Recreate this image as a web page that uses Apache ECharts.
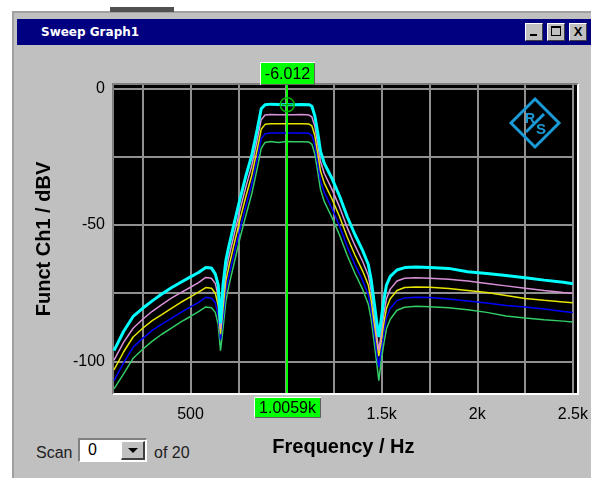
<!DOCTYPE html>
<html>
<head>
<meta charset="utf-8">
<script src="https://cdn.jsdelivr.net/npm/echarts@6/dist/echarts.min.js"></script>
<style>
  html, body { margin: 0; padding: 0; width: 591px; height: 478px; overflow: hidden; background: #fff; }
  body { font-family: "Liberation Sans", Arial, sans-serif; }
  #win { position: absolute; left: 12px; top: 11px; width: 579px; height: 467px; background: #c0c0c0;
         border-left: 2px solid #a0a0a0; border-top: 2px solid #a0a0a0; box-sizing: border-box; }
  #tool { position: absolute; left: 110px; top: 7px; width: 64px; height: 5px; background: #505050; }
  #title { position: absolute; left: 17px; top: 19px; width: 574px; height: 26px; background: #000080; color: #fff;
           font: bold 12px "DejaVu Sans", sans-serif; line-height: 26px; padding-left: 24px; box-sizing: border-box; }
  .btn { position: absolute; top: 23px; width: 18px; height: 18px; background: #c0c0c0; box-sizing: border-box;
         border-top: 1px solid #fff; border-left: 1px solid #fff; border-right: 1px solid #404040; border-bottom: 1px solid #404040; }
  #frame { position: absolute; left: 112px; top: 83px; width: 467px; height: 312px; box-sizing: border-box; background: #000;
           border-top: 2px solid #808080; border-left: 2px solid #808080; border-right: 2px solid #fff; border-bottom: 2px solid #fff; }
  .txt { position: absolute; font-size: 16px; color: #202020; line-height: 18px; }
  #drop { position: absolute; left: 78px; top: 438px; width: 69px; height: 24px; background: #fff; box-sizing: border-box;
          border-top: 2px solid #808080; border-left: 2px solid #808080; border-right: 1px solid #fff; border-bottom: 1px solid #fff; }
  #arrow { position: absolute; left: 41px; top: 1px; width: 24px; height: 19px; background: #c0c0c0; box-sizing: border-box;
           border-top: 1px solid #fff; border-left: 1px solid #fff; border-right: 2px solid #404040; border-bottom: 2px solid #404040; }
  #chart { position: absolute; left: 0; top: 0; width: 591px; height: 478px; }
</style>
</head>
<body>
<div id="win"></div>
<div id="tool"></div>
<div id="title">Sweep Graph1</div>
<div class="btn" style="left:525px"><div style="position:absolute;left:4px;top:10px;width:7px;height:2px;background:#000"></div></div>
<div class="btn" style="left:547px"><div style="position:absolute;left:3px;top:2px;width:10px;height:10px;box-sizing:border-box;border:1px solid #000;border-top:2px solid #000"></div></div>
<div class="btn" style="left:569px;font:bold 13px 'Liberation Sans',Arial,sans-serif;text-align:center;line-height:16px;color:#000">X</div>
<div id="frame"></div>
<div class="txt" style="left:36px;top:444px">Scan</div>
<div id="drop">
  <div class="txt" style="left:8px;top:1px;color:#000">0</div>
  <div id="arrow"><div style="position:absolute;left:6px;top:6px;width:0;height:0;border-left:5px solid transparent;border-right:5px solid transparent;border-top:5px solid #000"></div></div>
</div>
<div class="txt" style="left:154px;top:444px">of 20</div>
<div id="chart"></div>
<script>
// sweep frequencies in Hz
const FREQ = [100, 150, 200, 250, 300, 350, 400, 450, 500,
  540, 580, 610, 630, 645, 657, 670, 685, 700,
  730, 760, 790, 820, 850, 870, 890, 920, 960,
  1000, 1040, 1080, 1120, 1135, 1150, 1165, 1180, 1200,
  1240, 1280, 1320, 1360, 1400, 1430, 1445, 1460, 1475,
  1485, 1495, 1510, 1525, 1545, 1580, 1620, 1680, 1750,
  1850, 1950, 2050, 2150, 2250, 2350, 2450, 2500]

// levels in dBV, one array per scan
const SCAN_CYAN = [-96, -89, -83.5, -80.5, -77.8, -75.3, -73, -71, -69,
  -67.5, -65.6, -65.8, -68, -72, -86, -72, -63, -58,
  -49, -40.3, -32, -24.7, -14.7, -7.5, -6, -5.8, -5.9,
  -6.0, -6.0, -5.9, -6.0, -6.6, -10, -16, -23, -27.5,
  -33, -39.5, -47, -53.5, -59.3, -64.5, -70, -78, -86,
  -91, -86, -78, -72, -68.8, -66.5, -65.6, -65.4, -65.6,
  -65.9, -67.1, -67.8, -68.5, -69.3, -70.2, -71, -71.5]
const SCAN_PINK = [-99.5, -93, -87.8, -84.5, -81.6, -79.2, -76.8, -74.8, -72.8,
  -71.2, -69.2, -69.5, -71.5, -76, -88, -77, -67, -62,
  -53, -44.2, -36, -28.5, -18.5, -11.5, -9.8, -9.6, -9.7,
  -9.7, -9.7, -9.6, -9.8, -10.5, -13.8, -20, -26.8, -31.2,
  -37, -43.5, -51, -57.5, -63.3, -68.5, -74, -82, -91,
  -96, -91, -83, -77, -73.5, -70.5, -69.5, -69.3, -69.5,
  -69.9, -70.5, -71.4, -72.3, -73.2, -74, -74.7, -75]
const SCAN_YELLOW = [-103, -96.5, -91, -87.8, -85, -82.8, -80.5, -78.3, -76.3,
  -74.7, -72.9, -73.2, -75, -79.5, -90, -80.5, -70.5, -65.5,
  -56.5, -47.7, -39.5, -32, -22, -15, -13.2, -13, -13,
  -13, -13, -13, -13.1, -13.8, -17.2, -23.5, -30.3, -34.7,
  -40.5, -47, -54.5, -61, -66.8, -72, -77.5, -85.5, -93,
  -98, -93.5, -86.5, -80.5, -77, -74, -72.9, -72.7, -72.8,
  -73.3, -74, -74.7, -75.8, -76.9, -77.6, -78.2, -78.5]
const SCAN_BLUE = [-107, -100.5, -94.7, -91.5, -88.6, -86.3, -84.2, -82, -80,
  -78.4, -76.5, -76.8, -78.5, -83, -92, -84, -74, -69,
  -60, -51.2, -43, -35.4, -25.5, -18.5, -16.6, -16.4, -16.4,
  -16.4, -16.4, -16.4, -16.5, -17.3, -20.6, -27, -33.8, -38.2,
  -44, -50.5, -58, -64.5, -70.3, -75.5, -81, -89, -97,
  -102, -97, -90, -84, -80.5, -77.7, -76.7, -76.5, -76.6,
  -77.1, -77.8, -78.6, -79.5, -80, -80.8, -81.7, -82]
const SCAN_GREEN = [-110, -104.5, -98.8, -95.5, -92.5, -90, -87.8, -85.5, -83.5,
  -81.8, -80, -80.3, -82, -86.5, -96, -88, -78, -72.5,
  -63.5, -54.5, -46.5, -38.8, -29, -22, -19.8, -19.5, -19.8,
  -19.5, -19.6, -19.6, -19.7, -20.5, -24, -30.2, -37, -41.5,
  -47.3, -53.8, -61.2, -67.7, -73.5, -79, -84.5, -92.5, -101,
  -107, -101, -94, -88, -84.5, -81.2, -80.1, -79.8, -79.9,
  -80.3, -81, -82, -83.3, -84.1, -84.7, -85.2, -85.5]

const X_GRID = [250, 500, 750, 1000, 1250, 1500, 1750, 2000, 2250, 2500]
// the 1k label is hidden under the cursor readout
const X_LABELS = [500, 1500, 2000, 2500]
const Y_GRID = [0, -25, -50, -75, -100]
const Y_LABELS = [0, -50, -100]

const CURSOR_FREQ = 1005.9
const CURSOR_LEVEL = -6.012
const CURSOR_FREQ_TEXT = '1.0059k'
const CURSOR_LEVEL_TEXT = '-6.012'

const FONT = '"Liberation Sans", Arial, sans-serif'
const LOGO = '#1a9ad6'

const chart = echarts.init(document.getElementById('chart'))

const trace = (name, values, color, width) => ({
  name,
  type: 'line',
  data: FREQ.map((f, i) => [f, values[i]]),
  symbol: 'none',
  lineStyle: { color, width },
  itemStyle: { color },
  silent: true,
})

const cyan = trace('Scan 0', SCAN_CYAN, '#00ffff', 3)
cyan.markLine = {
  silent: true,
  symbol: 'none',
  label: { show: false },
  lineStyle: { color: '#00ff00', width: 2, type: 'solid' },
  data: [{ xAxis: CURSOR_FREQ }],
}
cyan.markPoint = {
  silent: true,
  label: { show: false },
  data: [
    { coord: [CURSOR_FREQ, CURSOR_LEVEL], symbol: 'circle', symbolSize: 14,
      itemStyle: { color: 'transparent', borderColor: '#00b000', borderWidth: 1.5 } },
    { coord: [CURSOR_FREQ, CURSOR_LEVEL], symbol: 'rect', symbolSize: [11, 1.5],
      itemStyle: { color: '#00b000' } },
  ],
}

chart.setOption({
  animation: false,
  backgroundColor: 'transparent',
  grid: { left: 114, top: 85, width: 463, height: 308, show: true, backgroundColor: '#000', borderWidth: 0 },
  xAxis: {
    type: 'value',
    min: 100,
    max: 2500,
    name: 'Frequency / Hz',
    nameLocation: 'middle',
    nameGap: 44,
    nameTextStyle: { color: '#000', fontSize: 20, fontWeight: 'bold', fontFamily: FONT },
    axisLine: { show: false },
    axisTick: { show: false, customValues: X_GRID },
    axisLabel: {
      customValues: X_LABELS,
      color: '#000', fontSize: 16, fontFamily: FONT, margin: 14,
      formatter: (v) => (v >= 1000 ? v / 1000 + 'k' : String(v)),
    },
    splitLine: { show: true, lineStyle: { color: '#909090', width: 2 } },
  },
  yAxis: {
    type: 'value',
    min: -111.5,
    max: 1.2,
    name: 'Funct Ch1 / dBV',
    nameLocation: 'middle',
    nameGap: 60,
    nameTextStyle: { color: '#000', fontSize: 20, fontWeight: 'bold', fontFamily: FONT },
    axisLine: { show: false },
    axisTick: { show: false, customValues: Y_GRID },
    axisLabel: { customValues: Y_LABELS, color: '#000', fontSize: 16, fontFamily: FONT, margin: 9 },
    splitLine: { show: true, lineStyle: { color: '#909090', width: 2 } },
  },
  series: [
    trace('Scan 4', SCAN_GREEN, '#33cc66', 1.5),
    trace('Scan 3', SCAN_BLUE, '#0000ff', 1.5),
    trace('Scan 2', SCAN_YELLOW, '#e6e600', 1.5),
    trace('Scan 1', SCAN_PINK, '#d890d8', 1.5),
    cyan,
  ],
})

// cursor readouts sit on the cursor position given by the x axis
const cx = chart.convertToPixel({ xAxisIndex: 0 }, CURSOR_FREQ)

function readout(text, x, y, w, h) {
  return {
    type: 'group', x: Math.round(x - w / 2), y, z: 100,
    children: [
      { type: 'rect', shape: { x: 0, y: 0, width: w, height: h }, style: { fill: '#00ff00' } },
      { type: 'polyline', shape: { points: [[0.5, h], [0.5, 0.5], [w, 0.5]] }, style: { stroke: '#fff', lineWidth: 1, fill: null } },
      { type: 'polyline', shape: { points: [[1, h - 0.5], [w - 0.5, h - 0.5], [w - 0.5, 1]] }, style: { stroke: '#606060', lineWidth: 1, fill: null } },
      { type: 'text', x: w / 2, y: h / 2 + 1, style: { text, fill: '#000', font: '16px ' + FONT, align: 'center', verticalAlign: 'middle' } },
    ],
  }
}

chart.setOption({
  graphic: [
    readout(CURSOR_LEVEL_TEXT, cx, 62, 55, 23),
    readout(CURSOR_FREQ_TEXT, cx, 397, 67, 21),
    {
      type: 'group', x: 535, y: 123, z: 50,
      children: [
        { type: 'polygon', shape: { points: [[0, -24], [24, 0], [0, 24], [-24, 0]] }, style: { stroke: LOGO, lineWidth: 3, fill: null } },
        { type: 'line', shape: { x1: -9, y1: 9, x2: 9, y2: -9 }, style: { stroke: LOGO, lineWidth: 3 } },
        { type: 'text', x: -5, y: -4, style: { text: 'R', fill: LOGO, font: 'bold 14px ' + FONT, align: 'center', verticalAlign: 'middle' } },
        { type: 'text', x: 6, y: 7, style: { text: 'S', fill: LOGO, font: 'bold 15px ' + FONT, align: 'center', verticalAlign: 'middle' } },
      ],
    },
  ],
})
</script>
</body>
</html>
